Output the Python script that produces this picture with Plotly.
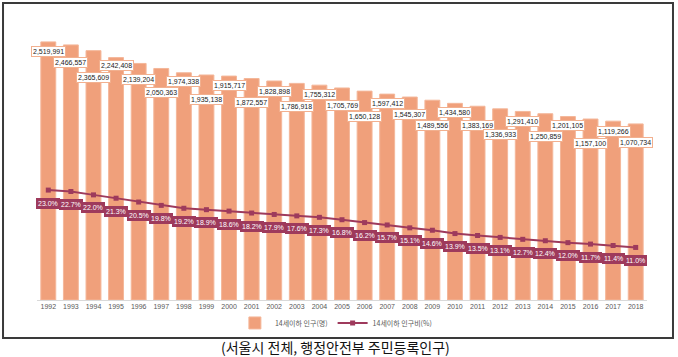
import plotly.graph_objects as go

years = [str(y) for y in range(1992, 2019)]
pop_under14 = [2519991, 2466557, 2365609, 2242408, 2139204, 2050363, 1974338, 1935138,
               1915717, 1872557, 1828898, 1786918, 1755312, 1705769, 1650128, 1597412,
               1545307, 1489556, 1434580, 1383169, 1336933, 1291410, 1250859, 1201105,
               1157100, 1119266, 1070734]
pct_under14 = [23.0, 22.7, 22.0, 21.3, 20.5, 19.8, 19.2, 18.9, 18.6, 18.2, 17.9, 17.6, 17.3,
               16.8, 16.2, 15.7, 15.1, 14.6, 13.9, 13.5, 13.1, 12.7, 12.4, 12.0, 11.7, 11.4, 11.0]

bar_name = "14세이하 인구(명)"
line_name = "14세이하 인구비(%)"
caption = "(서울시 전체, 행정안전부 주민등록인구)"

# axis: the original chart's value axis does not start at zero
Y_MIN, Y_MAX = -2040000, 2730000

# style: pixel offsets of the bar value labels below the bar tops
label_drop = [10, 18, 27, 8, 16, 24, 9, 25, 9, 24, 10, 23, 9, 18, 25, 9, 17, 25, 9, 19, 26,
              10, 23, 9, 24, 10, 19]

BAR = "#F0A07B"
LINE = "#9E3A5C"

fig = go.Figure()
fig.add_trace(go.Bar(x=years, y=[v - Y_MIN for v in pop_under14], base=Y_MIN, name=bar_name,
                     customdata=pop_under14, hovertemplate="%{x}: %{customdata:,}<extra></extra>",
                     marker=dict(color=BAR, line=dict(color="#F4B79A", width=1)), yaxis="y"))
fig.add_trace(go.Scatter(x=years, y=pct_under14, name=line_name, mode="lines+markers",
                         line=dict(color=LINE, width=2),
                         marker=dict(symbol="square", size=5, color=LINE), yaxis="y2"))

annotations = []
for i, (v, d) in enumerate(zip(pop_under14, label_drop)):
    annotations.append(dict(x=i, y=v, xref="x", yref="y", text=f"{v:,}", showarrow=False,
                            yshift=-d, font=dict(family="Liberation Sans", size=7, color="#222"),
                            bgcolor="white", bordercolor="#F2B08F", borderwidth=1, borderpad=1))
for i, p in enumerate(pct_under14):
    annotations.append(dict(x=i, y=p, xref="x", yref="y2", text=f"{p:.1f}%", showarrow=False,
                            yshift=-13, font=dict(family="Liberation Sans", size=7, color="white"),
                            bgcolor=LINE, bordercolor=LINE, borderwidth=1, borderpad=1))
annotations.append(dict(x=0.49, y=-0.174, xref="paper", yref="paper", text=caption,
                        showarrow=False, font=dict(family="Noto Sans CJK KR", size=14, color="#111"),
                        xanchor="center", yanchor="middle"))

fig.update_layout(
    width=678, height=357,
    margin=dict(l=37, r=31, t=30, b=57, autoexpand=False),
    paper_bgcolor="white", plot_bgcolor="white",
    bargap=0.34,
    showlegend=True,
    legend=dict(orientation="h", x=0.49, xanchor="center", y=-0.085, yanchor="middle",
                font=dict(family="Noto Sans CJK KR", size=7, color="#595959"),
                itemwidth=30, bgcolor="rgba(0,0,0,0)"),
    xaxis=dict(type="category", range=[-0.5, 26.5], autorange=False, showgrid=False,
               showline=True, linecolor="#D9D9D9", linewidth=1, ticks="",
               tickfont=dict(family="Liberation Sans", size=7, color="#595959")),
    yaxis=dict(range=[Y_MIN, Y_MAX], autorange=False, visible=False, showgrid=False,
               zeroline=False),
    yaxis2=dict(range=[0, 56.5], autorange=False, overlaying="y", side="right", visible=False,
                showgrid=False, zeroline=False),
    annotations=annotations,
    shapes=[dict(type="rect", xref="paper", yref="paper", x0=-0.0557, x1=1.0426,
                 y0=-0.1407, y1=1.1, line=dict(color="#3A3A3A", width=2), layer="above")],
)

fig.write_html("out.html", config={"displayModeBar": False},
               post_script="document.body.style.margin='0';document.body.style.overflow='hidden';")
